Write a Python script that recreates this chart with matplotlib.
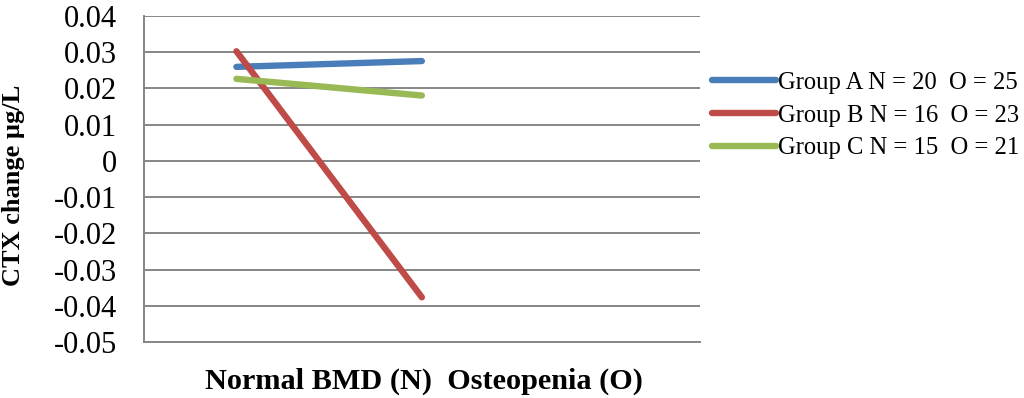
import matplotlib
matplotlib.use("Agg")
import matplotlib.pyplot as plt
import numpy as np

categories = ["Normal BMD (N)", "Osteopenia (O)", ""]
group_a = [0.0259, 0.0275]
group_b = [0.0302, -0.0376]
group_c = [0.0226, 0.0180]
labels = ["Group A N = 20  O = 25", "Group B N = 16  O = 23", "Group C N = 15  O = 21"]
colors = ["#4A7EBB", "#BE4B48", "#98B954"]
yticks = [0.04, 0.03, 0.02, 0.01, 0, -0.01, -0.02, -0.03, -0.04, -0.05]
ytick_labels = ["0.04", "0.03", "0.02", "0.01", "0", "-0.01", "-0.02", "-0.03", "-0.04", "-0.05"]

plt.rcParams['font.family'] = ['Liberation Serif', 'DejaVu Serif']

fig = plt.figure(figsize=(10.24, 3.98), dpi=100)
ax = fig.add_axes([143.7/1024, 1-342.3/398, (700-143.7)/1024, (342.3-15.7)/398])

x = np.arange(len(categories))
for vals, lab, col in zip([group_a, group_b, group_c], labels, colors):
    ax.plot(x[:len(vals)], vals, color=col, lw=4.6, solid_capstyle='round', label=lab, zorder=3)

ax.set_xlim(-0.5, len(categories) - 0.5)
ax.set_ylim(-0.05, 0.04)
ax.set_yticks(yticks)
ax.set_yticklabels(ytick_labels, fontsize=22)
ax.set_xticks([])
ax.tick_params(axis='y', length=0, pad=19)
ax.grid(axis='y', color='#868686', lw=1.4, zorder=1)
for s in ['top', 'right']:
    ax.spines[s].set_visible(False)
for s in ['left', 'bottom']:
    ax.spines[s].set_color('#868686')
    ax.spines[s].set_linewidth(1.4)

fig.text(14/1024, 1-185/398, "CTX change µg/L", fontsize=19, fontweight='bold',
         rotation=90, ha='center', va='center')
fig.text(424/1024, 1-381/398, "Normal BMD (N)  Osteopenia (O)", fontsize=21.8,
         fontweight='bold', ha='center', va='center')

leg = fig.legend(loc='center left', bbox_to_anchor=(712/1024, 1-115.5/398), frameon=False,
                 fontsize=17.7, handlelength=2.6, handletextpad=0.1, labelspacing=0.42,
                 borderpad=0, borderaxespad=0)

fig.savefig("out.png", dpi=100)
